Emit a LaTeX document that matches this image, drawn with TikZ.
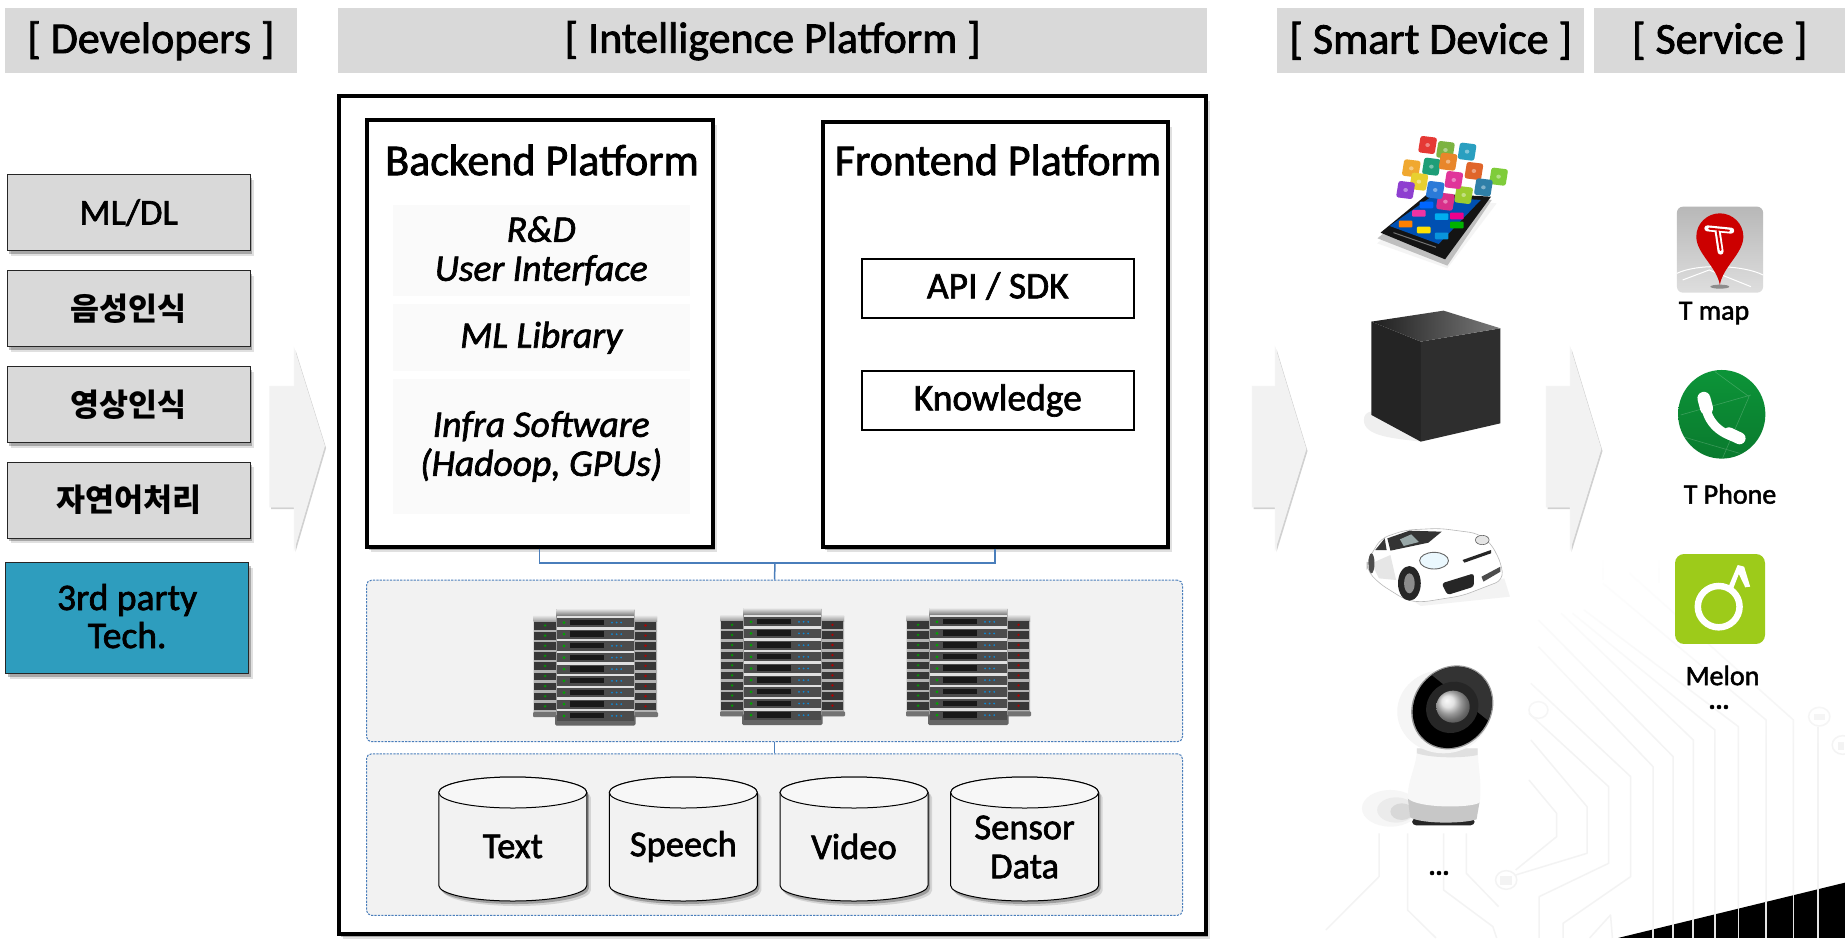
\documentclass[tikz,border=0pt]{standalone}
\usepackage{fontspec}
\setmainfont{Carlito}[FakeBold=1.8]
\newfontfamily\krf{Noto Sans CJK KR}
\usetikzlibrary{shapes.geometric,shadows,calc,fadings}
\definecolor{hdr}{HTML}{D9D9D9}
\definecolor{teal3}{HTML}{2E9DBE}
\definecolor{conn}{HTML}{4A7EBB}
\definecolor{pale}{HTML}{F2F2F2}
\definecolor{circ}{HTML}{F3F3F3}
\tikzset{
  softshadow/.style={drop shadow={shadow xshift=4pt,shadow yshift=-5pt,fill=black,opacity=.12},drop shadow={shadow xshift=2pt,shadow yshift=-3pt,fill=black,opacity=.25}},
  header/.style={fill=hdr,inner sep=0pt,font=\fontsize{44}{46}\selectfont,anchor=north west},
  devbox/.style={draw=black!85,line width=1.3pt,fill=hdr,inner sep=0pt,minimum width=243pt,minimum height=76pt,anchor=north west,font=\fontsize{36.5}{38}\selectfont,align=center,softshadow},
  kr/.style={font=\krf\bfseries\fontsize{31.5}{32}\selectfont},
  platform/.style={draw=black,line width=4pt,fill=white,inner sep=0pt,anchor=north west,softshadow},
  ptitle/.style={font=\fontsize{44}{46}\selectfont,inner sep=0pt},
  inner/.style={fill=black!2,inner sep=0pt,minimum width=297pt,anchor=north west,align=center,font=\itshape\fontsize{37.5}{39}\selectfont},
  apibox/.style={draw=black,line width=1.6pt,fill=white,inner sep=0pt,minimum width=272pt,minimum height=59pt,anchor=north west,font=\fontsize{37.5}{38}\selectfont,text height=28pt,text depth=8pt},
  dashpanel/.style={draw=conn,line width=1pt,dash pattern=on 2.2pt off 1.2pt,rounded corners=5pt,fill=pale,inner sep=0pt,minimum width=816pt,minimum height=161.5pt,anchor=north west},
  storebody/.style={draw=black,line width=1pt,fill=pale,softshadow},
  storetop/.style={draw=black,line width=1pt,fill=black!3},
  storetext/.style={inner sep=0pt,align=center,font=\fontsize{36.5}{39}\selectfont},
  lbl/.style={inner sep=0pt,font=\fontsize{28}{30}\selectfont},
  dotsl/.style={inner sep=0pt,font=\bfseries\fontsize{26}{26}\selectfont},
  chev/.style={fill=pale,draw=black!4,line width=.5pt,drop shadow={shadow xshift=1.5pt,shadow yshift=-2pt,fill=black,opacity=.18}},
  wire/.style={draw=conn,line width=1.5pt},
  trace/.style={draw=circ,line width=1.5pt,line join=round},
  zoomA/.style={shift={(1250,100)},xscale=.3795,yscale=.3333},
  zoomB/.style={shift={(1250,500)},xscale=.3795,yscale=.3333},
}
\newcommand{\srvrack}[2]{%
\begin{scope}[shift={(#1,#2)}]
  \foreach \xa/\led in {533.6/green!60!black,634/red!70!black}{%
    \fill[black!30,rounded corners=1pt] (\xa,615.7) rectangle ++(23,101);
    \shade[top color=black!10,bottom color=black!40] (\xa,615.7) rectangle ++(23,6);
    \foreach \i in {0,...,8}{%
      \fill[black!78] (\xa+.8,{622+10.1*\i}) rectangle ++(21.4,7.6);
      \fill[\led] (\xa+11.5,{625.5+10.1*\i}) circle (1.3pt);
    }
  }
  \fill[black!55,rounded corners=1pt] (533,712) rectangle (658,717);
  \fill[black!40,rounded corners=1pt] (556,609) rectangle (634.6,722);
  \shade[top color=black!10,middle color=black!35,bottom color=black!55] (556.5,609) rectangle (634,616);
  \fill[black!60,rounded corners=1.5pt] (555,715) rectangle (635.5,725.7);
  \foreach \i in {0,...,8}{%
    \fill[black!12] ({556.5},{615.5+11.67*\i}) rectangle (634,{618+11.67*\i});
    \fill[black!70] ({557},{618+11.67*\i}) rectangle (633.5,{627.2+11.67*\i});
    \fill[black!90] ({570},{619.5+11.67*\i}) rectangle (604,{625+11.67*\i});
    \fill[green!65!black] (564,{622.5+11.67*\i}) circle (1.5pt);
    \foreach \d in {0,1,2}{\fill[cyan!70!blue] ({612+4.6*\d},{622.5+11.67*\i}) circle (1pt);}
  }
\end{scope}}
\newcommand{\storecyl}[1]{%
  \path[storebody] (#1,792.5) -- (#1,885.5) arc[start angle=180,end angle=360,x radius=74pt,y radius=15.5pt] -- (#1+148,792.5) arc[start angle=0,end angle=180,x radius=74pt,y radius=15.5pt] -- cycle;
  \path[storetop] (#1+74,792.5) ellipse [x radius=74pt,y radius=15.5pt];}
\begin{document}
\begin{tikzpicture}[x=1pt,y=-1pt]
\useasboundingbox (0,0) rectangle (1845,938);
\fill[white] (0,0) rectangle (1845,938);

% ---- circuit background
\begin{scope}[zoomB]
  \foreach \p in {
    {(1000,220)--(1432,660)--(1432,1314)},
    {(930,250)--(1360,660)--(1360,1314)},
    {(880,330)--(1287,680)--(1287,1314)},
    {(850,340)--(1225,690)--(1225,1314)},
    {(820,340)--(1168,720)--(1168,1314)},
    {(760,360)--(1115,770)--(1115,1314)},
    {(760,440)--(1062,800)--(1062,1314)},
    {(740,550)--(1003,830)--(1003,1130)--(825,1270)--(825,1314)},
    {(735,640)--(945,860)--(945,1090)--(762,1190)--(762,1314)},
    {(740,720)--(888,920)--(888,1060)--(700,1125)},
    {(735,840)--(808,940)--(808,1010)--(700,1110)},
    {(340,1000)--(340,1130)--(200,1290)},
    {(415,1000)--(415,1230)--(490,1314)},
    {(510,1000)--(510,1170)--(640,1280)--(650,1314)},
    {(570,1000)--(570,1120)--(655,1220)},
    {(1497,680)--(1497,1314)},
    {(895,1314)--(950,1245)--(955,1314)},
    {(930,180)--(930,240)},
    {(1078,180)--(1078,250)}}{\draw[trace] \p;}
  \draw[trace] (1500,650) circle (28);
  \draw[trace] (1562,735) circle (28);
  \draw[trace] (675,1140) circle (28);
  \draw[trace] (760,630) circle (25);
  \fill[circ] (1485,642) rectangle (1515,660);
  \fill[circ] (1550,725) rectangle (1566,750);
  \fill[circ] (660,1128) rectangle (690,1155);
\end{scope}
\fill[white,path fading=south] (1500,550) rectangle (1845,760);
\begin{scope}[zoomB]
  \fill[black] (970,1314) -- (1568,1148) -- (1568,1314) -- cycle;
  \foreach \x in {1062,1115,1168,1225,1287,1360,1432,1497}{\draw[draw=black!10,line width=1.6pt] (\x,{1314-(\x-970)*.2776-2}) -- (\x,1314);}
\end{scope}

% ---- headers
\node[header,minimum width=292pt,minimum height=65pt] (hdev) at (4.7,8) {[ Developers ]};
\node[header,minimum width=869pt,minimum height=65pt] (hint) at (338,8) {[ Intelligence Platform ]};
\node[header,minimum width=307pt,minimum height=65pt] (hdevice) at (1277,8) {[ Smart Device ]};
\node[header,minimum width=251pt,minimum height=65pt] (hserv) at (1594,8) {[ Service ]};

% ---- developers
\node[devbox] (d1) at (6.5,174) {ML/DL};
\node[devbox,kr] (d2) at (6.5,270) {음성인식};
\node[devbox,kr] (d3) at (6.5,366) {영상인식};
\node[devbox,kr] (d4) at (6.5,461.5) {자연어처리};
\node[devbox,fill=teal3,minimum height=111pt] (d5) at (5,562) {};
\node[inner sep=0pt,align=center,font=\fontsize{37.5}{38}\selectfont,yshift=2pt] (d5t) at (d5.center) {3rd party\\Tech.};

% ---- chevrons
\draw[chev] (269.5,386) -- (294,386) -- (294,348) -- (324.6,446) -- (294,550) -- (294,507) -- (269.5,507) -- cycle;
\draw[chev] (732,329) -- (765,329) -- (765,296) -- (812,379) -- (765,468) -- (765,435) -- (732,435) -- cycle;
\draw[chev] (1252,386) -- (1275,386) -- (1275,347) -- (1306,449) -- (1275,550) -- (1275,507) -- (1252,507) -- cycle;
\draw[chev] (1546,386) -- (1570,386) -- (1570,347) -- (1601,449) -- (1570,550) -- (1570,507) -- (1546,507) -- cycle;

% ---- main frame
\node[platform,minimum width=867pt,minimum height=838pt] (frame) at (336.5,93.5) {};
\node[platform,minimum width=346pt,minimum height=427pt] (backend) at (364.5,117.5) {};
\node[platform,minimum width=345pt,minimum height=425pt] (frontend) at (820.5,119.5) {};
\node[ptitle] (tb) at (542,160) {Backend Platform};
\node[ptitle] (tf) at (998,160) {Frontend Platform};
\node[inner,minimum height=91pt] (i1) at (392.5,205) {R\&D\\User Interface};
\node[inner,minimum height=67pt] (i2) at (392.5,304) {ML Library};
\node[inner,minimum height=135.5pt] (i3) at (392.5,378.5) {Infra Software\\(Hadoop, GPUs)};
\node[apibox] (api) at (861,258) {API / SDK};
\node[apibox] (know) at (861,370) {Knowledge};

% ---- panels
\node[dashpanel] (servers) at (366,579.7) {};
\node[dashpanel] (stores) at (366,753.3) {};
\coordinate (bus) at (775,563);
\draw[wire] (backend.south) |- (bus);
\draw[wire] (frontend.south) |- (bus);
\draw[wire] (bus) -- (servers.north);
\draw[wire] (servers.south) -- (stores.north);

\srvrack{0}{0}
\srvrack{187}{-.7}
\srvrack{373}{-.7}

\storecyl{438.8}
\storecyl{609.3}
\storecyl{780}
\storecyl{950.6}
\node[storetext] (c1) at (512.8,846.5) {Text};
\node[storetext] (c2) at (683.3,846.5) {Speech};
\node[storetext] (c3) at (854,846.5) {Video};
\node[storetext] (c4) at (1024.6,847) {Sensor\\Data};

% ---- phone with apps
\begin{scope}[zoomA]
  \fill[black!6,opacity=.7] (335,430) -- (520,505) -- (650,310) -- (480,290) -- cycle;
  \fill[black!25] (336,415) -- (470,285) -- (637,300) -- (520,497) -- cycle;
  \fill[black!92] (344,398) -- (470,280) -- (635,290) -- (514,478) -- cycle;
  \fill[blue!55!cyan!70!black] (368,378) -- (478,290) -- (608,300) -- (497,432) -- cycle;
  \draw[black!55,line width=1pt] (378,398) -- (490,442);
  \foreach \x/\y/\c in {410/372/orange,458/390/yellow!85!orange,505/408/cyan!80!blue,445/340/magenta!80,505/350/cyan,545/348/magenta,465/315/blue!60!cyan,545/375/green!70!black}{%
    \fill[\c,rounded corners=1pt] (\x-18,\y-10) rectangle (\x+18,\y+10);}
  \foreach \x/\y/\c in {
    468/135/E53935,515/150/7CB342,572/155/2A9FC0,425/205/F0A830,478/200/1E9E78,
    522/185/E8862A,590/213/E0652A,655/230/7FCC3A,445/245/E8D030,410/270/8E3FD0,
    615/262/2F7FA8,563/285/9CCB30,537/240/E0359A,515/305/D8308A,488/270/2B7AD8}{%
    \definecolor{tmpc}{HTML}{\c}
    \fill[tmpc,rounded corners=2.5pt,rotate around={-8:(\x,\y)}] (\x-22,\y-25) rectangle (\x+22,\y+25);
    \fill[white,opacity=.4] (\x,\y) circle (6);}
\end{scope}

% ---- black cube
\begin{scope}[zoomA]
  \fill[black!10,opacity=.6] (300,960) .. controls (300,930) and (330,930) .. (350,940) -- (450,1025) .. controls (380,1015) and (300,1010) .. (300,960) -- cycle;
  \fill[black!86] (320,665) -- (450,725) -- (450,1025) -- (320,945) -- cycle;
  \fill[black!82] (450,725) -- (660,685) -- (660,970) -- (450,1025) -- cycle;
  \shade[left color=black!88,right color=black!52] (320,665) -- (510,632) -- (660,685) -- (450,725) -- cycle;
\end{scope}

% ---- car
\begin{scope}[zoomB]
  \fill[black!6,opacity=.8] (420,295) -- (670,235) -- (685,290) -- (450,318) -- cycle;
  \draw[fill=white,draw=black!28,line width=.6pt,rounded corners=8pt] (308,185) -- (345,115) -- (410,90) -- (500,85) -- (600,100) -- (635,130) -- (662,190) -- (667,240) -- (560,287) -- (450,307) -- (410,300) -- (340,250) -- (308,210) -- cycle;
  \fill[black!12,opacity=.8] (320,190) -- (370,165) -- (385,240) -- (340,235) -- cycle;
  \fill[black!80] (362,115) -- (420,92) -- (505,95) -- (470,128) -- (370,152) -- cycle;
  \fill[teal!30!black!40] (395,118) -- (425,103) -- (445,126) -- (405,138) -- cycle;
  \fill[black!78] (330,150) -- (355,115) -- (360,150) -- cycle;
  \fill[black!85] (420,250) ellipse (30 and 52);
  \fill[black!45] (420,250) ellipse (14 and 30);
  \draw[fill=cyan!8,draw=black!60,line width=.9pt] (485,182) ellipse (38 and 25);
  \fill[black!85,rounded corners=3pt] (505,250) -- (590,220) -- (590,260) -- (520,285) -- cycle;
  \fill[black!85] (560,180) -- (635,150) -- (635,160) -- (565,188) -- cycle;
  \fill[black!70] (610,230) -- (660,200) -- (660,215) -- (615,245) -- cycle;
  \draw[fill=black!10,draw=black!60,line width=.6pt] (612,120) ellipse (18 and 14);
  \fill[black!70] (320,190) ellipse (8 and 30);
\end{scope}

% ---- robot
\begin{scope}[zoomB]
  \fill[black!6,opacity=.6] (370,925) ellipse (75 and 55);
  \fill[black!10,opacity=.6] (385,930) ellipse (50 and 38);
  \fill[black!20,opacity=.6] (400,935) ellipse (30 and 25);
  \fill[black!85,rounded corners=4pt] (427,955) rectangle (592,976);
  \fill[black!22] (416,895) .. controls (440,915) and (580,915) .. (605,905) -- (597,958) .. controls (560,972) and (450,972) .. (422,952) -- cycle;
  \fill[black!3] (440,745) -- (600,745) .. controls (600,800) and (612,850) .. (605,908) .. controls (580,925) and (440,925) .. (416,895) .. controls (414,840) and (440,800) .. (440,745) -- cycle;
  \fill[black!12] (440,745) -- (600,745) -- (600,765) .. controls (560,775) and (480,775) .. (440,760) -- cycle;
  \fill[black!4] (510,635) ellipse (122 and 125);
  \fill[black!40,rotate around={-18:(532,625)}] (532,622) ellipse (106 and 128);
  \fill[black,rotate around={-18:(532,625)}] (532,622) ellipse (102 and 124);
  \begin{scope}
    \clip[rotate around={-18:(532,625)}] (532,622) ellipse (102 and 124);
    \fill[black!80] (430,480) -- (680,480) -- (680,710) -- cycle;
  \end{scope}
  \fill[black!85,rotate around={-18:(532,625)}] (532,622) ellipse (68 and 78);
  \shade[ball color=black!15] (535,620) ellipse (44 and 48);
\end{scope}
\node[dotsl] (dots1) at (1439,873) {...};

% ---- T map icon
\begin{scope}[zoomA]
  \shade[top color=black!28,bottom color=black!13,rounded corners=6pt] (1125,320) rectangle (1352,578);
  \draw[white,line width=1pt] (1125,520) .. controls (1180,490) and (1300,495) .. (1352,525);
  \draw[white,line width=1pt] (1140,540) -- (1210,510) -- (1320,560);
  \fill[black!45] (1238,560) ellipse (25 and 6);
  \fill[red!80!black] (1238,555) .. controls (1230,500) and (1176,460) .. (1176,410) .. controls (1176,370) and (1205,340) .. (1238,340) .. controls (1271,340) and (1300,370) .. (1300,410) .. controls (1300,460) and (1246,500) .. (1238,555) -- cycle;
  \draw[white,line width=6pt,line cap=round] (1205,385) -- (1268,392);
  \draw[white,line width=6pt,line cap=round] (1232,392) -- (1240,455);
  \draw[red!80!black,line width=2pt,line cap=round] (1210,386) -- (1262,392);
  \draw[red!80!black,line width=2pt,line cap=round] (1232,392) -- (1240,450);
\end{scope}
\node[lbl] (tmap) at (1714,313) {T map};

% ---- T Phone icon
\begin{scope}[zoomA]
  \definecolor{tphoneA}{HTML}{0C9438}
  \definecolor{tphoneB}{HTML}{0A7A2E}
  \shade[top color=tphoneA,bottom color=tphoneB] (1243,943) ellipse (115 and 133);
  \draw[white,opacity=.2,line width=.6pt] (1135,945) -- (1320,885) (1225,815) -- (1315,890) -- (1245,1075) (1140,1010) -- (1290,1060);
  \draw[white,line width=9pt,line cap=round] (1200,905) .. controls (1200,960) and (1235,1000) .. (1280,1012);
  \draw[white,line width=13pt,line cap=round] (1196,895) -- (1203,925);
  \draw[white,line width=12pt,line cap=round] (1262,1000) -- (1290,1015);
\end{scope}
\node[lbl] (tphone) at (1730,494) {T Phone};

% ---- Melon icon
\begin{scope}[zoomB]
  \definecolor{melon}{HTML}{9DCB1A}
  \fill[melon,rounded corners=9pt] (1120,162) rectangle (1357,432);
  \draw[white,line width=6.5pt] (1235,320) ellipse (55 and 62);
  \fill[white] (1258,268) -- (1285,195) -- (1302,200) -- (1318,260) -- (1305,262) -- (1288,222) -- (1270,275) -- cycle;
\end{scope}
\node[lbl] (melonl) at (1722.5,675.5) {Melon};
\node[dotsl] (dots2) at (1719,707) {...};
\end{tikzpicture}
\end{document}
